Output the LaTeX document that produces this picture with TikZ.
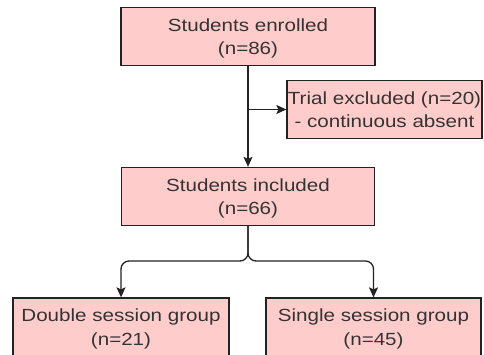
\documentclass[tikz,border=0pt]{standalone}
\usepackage{fontspec}
\setmainfont[FakeStretch=1.17]{Liberation Sans}
\usetikzlibrary{arrows.meta}
\definecolor{boxpink}{RGB}{255,204,204}
\definecolor{boxline}{RGB}{34,34,34}
\begin{document}
\begin{tikzpicture}[x=1pt,y=1pt,
  box/.style={draw=boxline, fill=boxpink, line width=1.3pt, inner sep=0pt, align=center,
    font=\fontsize{17.6}{23.7}\selectfont, text=black!80, minimum height=58, text depth=-3pt},
  flow/.style={draw=boxline, line width=1.3pt, -{Stealth[length=10pt,width=9pt,inset=2pt]}}]
\useasboundingbox (0,0) rectangle (484,-355);
\node[box, minimum width=254] (enrolled) at (248,-36.5){Students enrolled\\(n=86)};
\node[box, minimum width=195] (excluded) at (384.5,-109.5){Trial excluded (n=20)\\ - continuous absent};
\node[box, minimum width=253] (included) at (248,-196.5){Students included\\(n=66)};
\node[box, minimum width=216] (double) at (121,-327){Double session group\\(n=21)};
\node[box, minimum width=215] (single) at (373.5,-327){Single session group\\(n=45)};
\coordinate (split) at (enrolled.south |- excluded.west);
\coordinate (fork) at (248,-261);
\draw[flow](enrolled) -- (included);
\draw[flow](split) -- (excluded.west);
\draw[flow, rounded corners=8pt](included.south) -- (fork) -- (fork -| double.north) -- (double.north);
\draw[flow, rounded corners=8pt](included.south) -- (fork) -- (fork -| single.north) -- (single.north);
\end{tikzpicture}
\end{document}
